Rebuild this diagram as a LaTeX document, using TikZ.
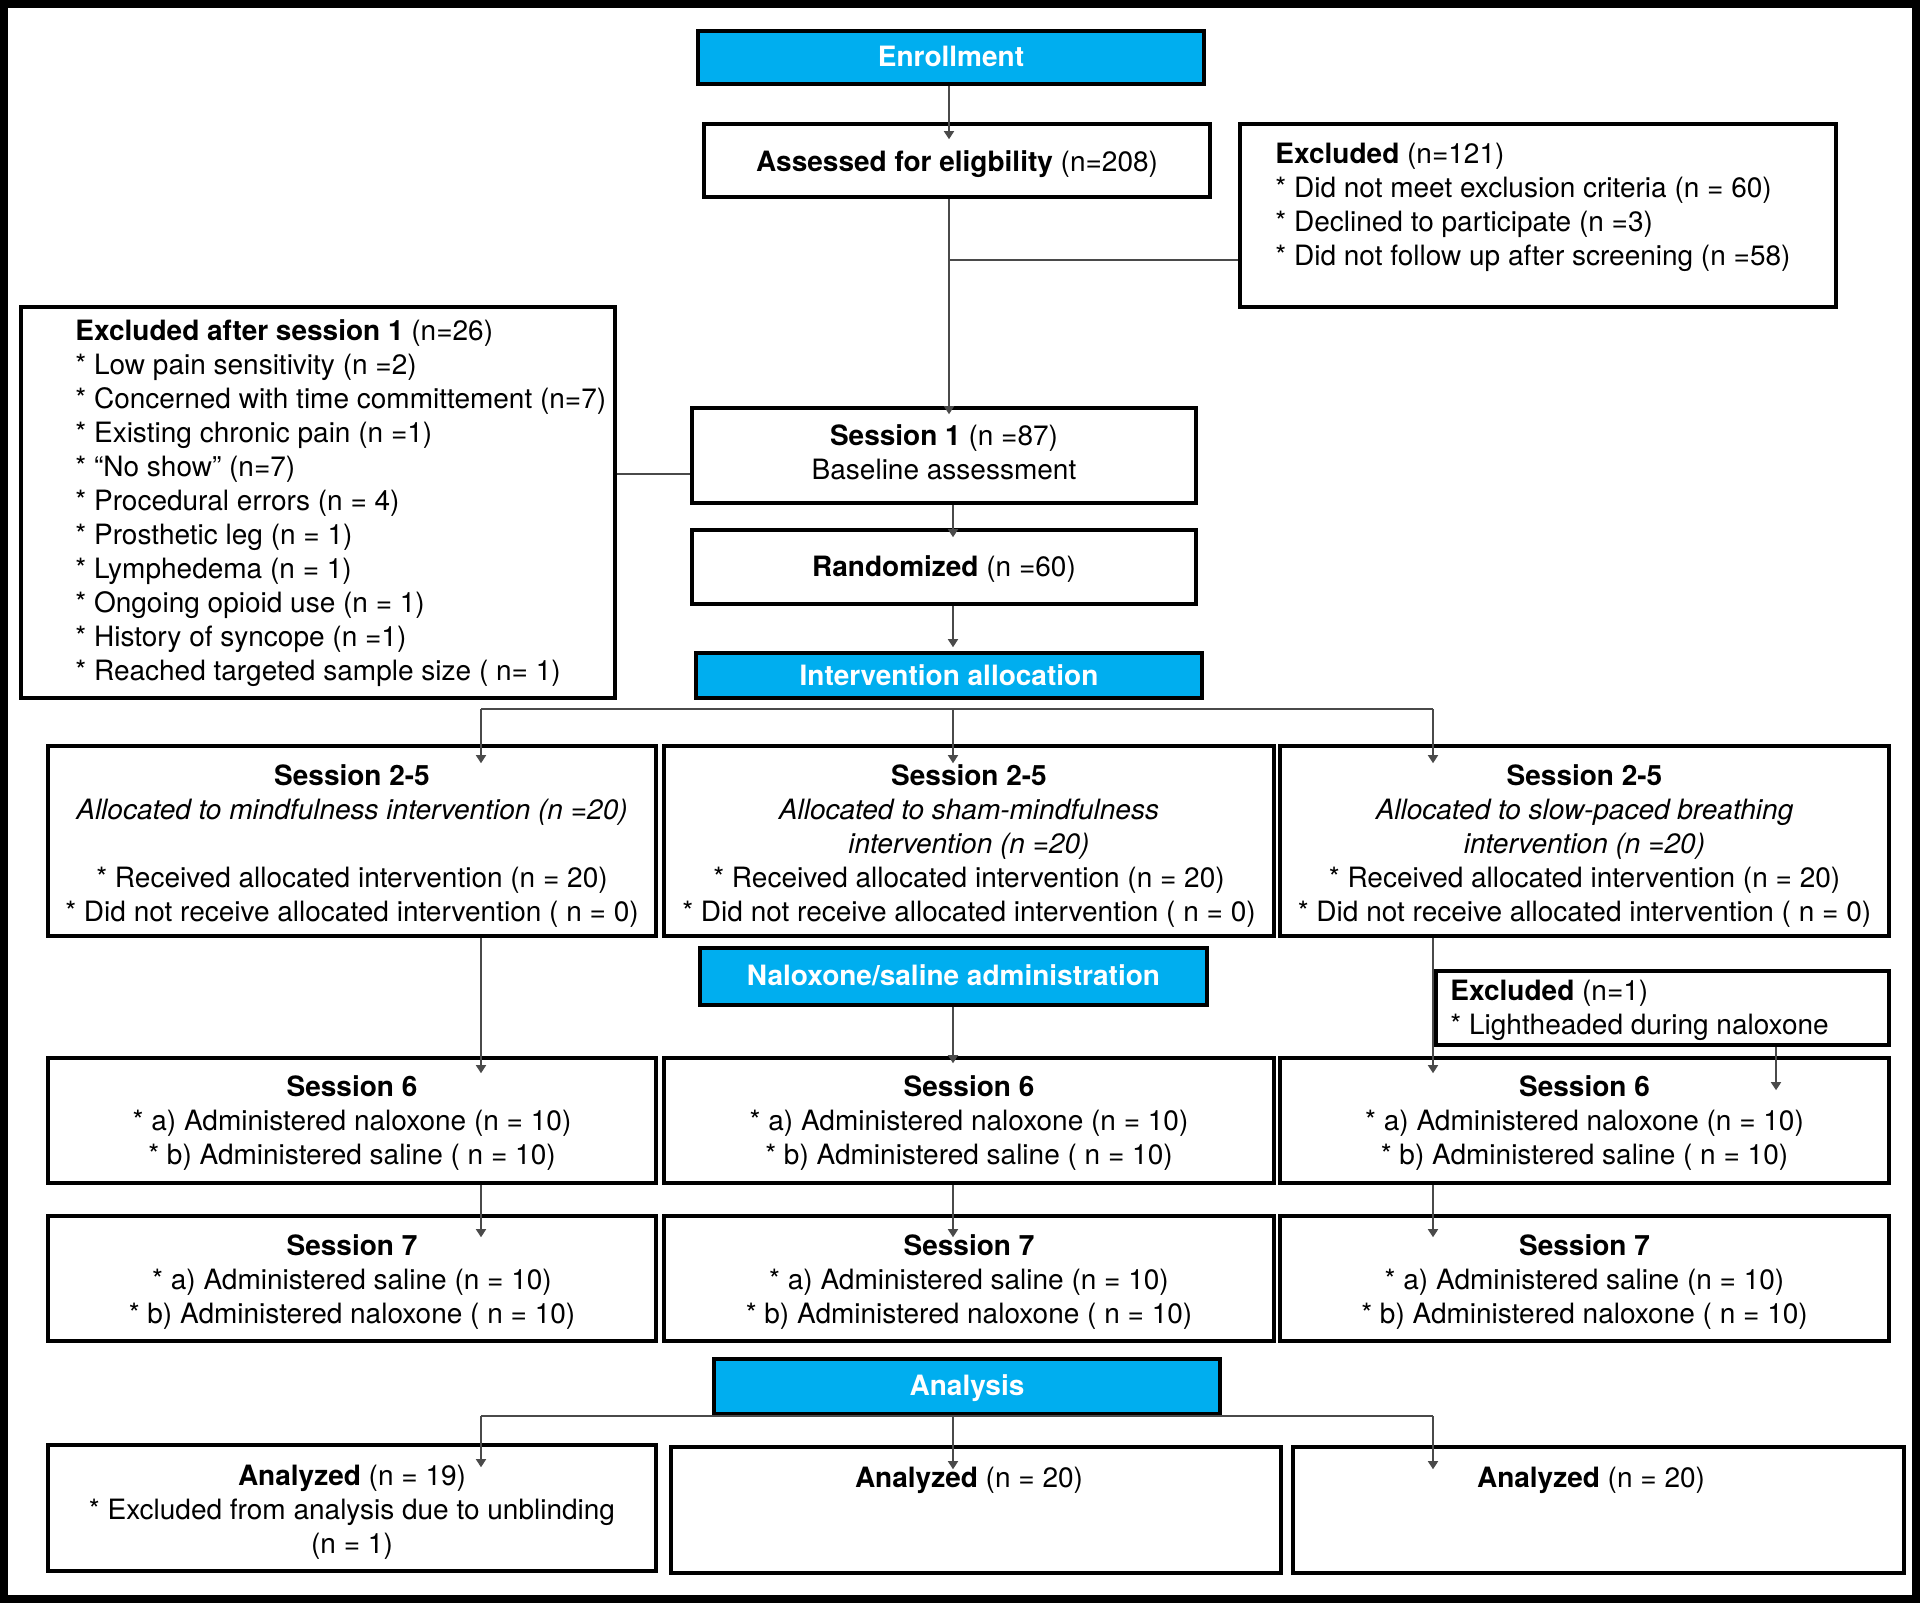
\documentclass[tikz,border=0pt]{standalone}
\usepackage{fontspec}
\setmainfont{TeX Gyre Heros}
\usetikzlibrary{arrows.meta,calc}
\definecolor{hdrblue}{HTML}{00AEEF}
\definecolor{conncol}{HTML}{4A4A4A}
\newcommand\myfs{\fontsize{14}{17}\selectfont}
% frame only
\newcommand\FrameAt[6]{\node[#1,minimum width={(#5-#3)*0.5pt},minimum height={(#6-#4)*0.5pt}] (#2) at ({(#3+#5)/2},{(#4+#6)/2}) {};}
% frame + centred text, text moved down by #8 px
\newcommand\BoxAt[8]{\FrameAt{#1}{#2}{#3}{#4}{#5}{#6}\node[#1,draw=none,fill=none] (#2t) at ([yshift={-(#8)*0.5pt}]#2.center) {#7};}
\begin{document}
\begin{tikzpicture}[x=0.5pt,y=-0.5pt,
  box/.style={draw=black,line width=1.8pt,fill=white,inner sep=0pt,align=center,font=\myfs},
  hdr/.style={box,fill=hdrblue,text=white,font=\myfs\bfseries},
  txt/.style={inner sep=0pt,align=left,font=\myfs},
  ctxt/.style={inner sep=0pt,align=center,font=\myfs},
  conn/.style={draw=conncol,line width=0.8pt},
  arr/.style={conn,-{Triangle[width=5pt,length=4pt]}}]
\useasboundingbox (0,0) rectangle (1920,1603);
\fill[white] (0,0) rectangle (1920,1603);
\draw[line width=4pt] (4,4) rectangle (1916,1599);

% column coordinates
\coordinate (xa) at (949,0);
\coordinate (xm) at (953,0);
\coordinate (xl) at (481,0);
\coordinate (xr) at (1433,0);
\coordinate (xe) at (1776,0);

% boxes
\BoxAt{hdr}{enroll}{698}{31}{1204}{84}{Enrollment}{-1}
\BoxAt{box}{assess}{704}{124}{1210}{197}{\textbf{Assessed for eligbility} (n=208)}{4}
\FrameAt{box}{excl}{1240}{124}{1836}{307}
\node[txt,anchor=west] (exclt) at (1275,207) {\textbf{Excluded} (n=121)\\{}* Did not meet exclusion criteria (n = 60)\\{}* Declined to participate (n =3)\\{}* Did not follow up after screening (n =58)};
\FrameAt{box}{exs1}{21}{307}{615}{698}
\node[txt,anchor=west] (exs1t) at (75,503) {\textbf{Excluded after session 1} (n=26)\\{}* Low pain sensitivity (n =2)\\{}* Concerned with time committement (n=7)\\{}* Existing chronic pain (n =1)\\{}* “No show” (n=7)\\{}* Procedural errors (n = 4)\\{}* Prosthetic leg (n = 1)\\{}* Lymphedema (n = 1)\\{}* Ongoing opioid use (n = 1)\\{}* History of syncope (n =1)\\{}* Reached targeted sample size ( n= 1)};
\BoxAt{box}{s1}{692}{408}{1196}{503}{\textbf{Session 1} (n =87)\\Baseline assessment}{-3}
\BoxAt{box}{rand}{692}{530}{1196}{604}{\textbf{Randomized} (n =60)}{2.5}
\BoxAt{hdr}{alloc}{696}{653}{1202}{698}{Intervention allocation}{0}

\BoxAt{box}{s25a}{48}{746}{656}{936}{\textbf{Session 2-5}\\\textit{Allocated to mindfulness intervention (n =20)}\\[17pt]{}* Received allocated intervention (n = 20)\\{}* Did not receive allocated intervention ( n = 0)}{5}
\BoxAt{box}{s25b}{664}{746}{1274}{936}{\textbf{Session 2-5}\\\textit{Allocated to sham-mindfulness}\\\textit{intervention (n =20)}\\{}* Received allocated intervention (n = 20)\\{}* Did not receive allocated intervention ( n = 0)}{5}
\BoxAt{box}{s25c}{1280}{746}{1889}{936}{\textbf{Session 2-5}\\\textit{Allocated to slow-paced breathing}\\\textit{intervention (n =20)}\\{}* Received allocated intervention (n = 20)\\{}* Did not receive allocated intervention ( n = 0)}{5}

\BoxAt{hdr}{nal}{700}{948}{1207}{1005}{Naloxone/saline administration}{-1}
\FrameAt{box}{ex1}{1436}{971}{1889}{1045}
\node[txt,anchor=west] (ex1t) at (1450,1010) {\textbf{Excluded} (n=1)\\{}* Lightheaded during naloxone};

\BoxAt{box}{s6a}{48}{1058}{656}{1183}{\textbf{Session 6}\\{}* a) Administered naloxone (n = 10)\\{}* b) Administered saline ( n = 10)}{3}
\BoxAt{box}{s6b}{664}{1058}{1274}{1183}{\textbf{Session 6}\\{}* a) Administered naloxone (n = 10)\\{}* b) Administered saline ( n = 10)}{3}
\BoxAt{box}{s6c}{1280}{1058}{1889}{1183}{\textbf{Session 6}\\{}* a) Administered naloxone (n = 10)\\{}* b) Administered saline ( n = 10)}{3}

\BoxAt{box}{s7a}{48}{1216}{656}{1341}{\textbf{Session 7}\\{}* a) Administered saline (n = 10)\\{}* b) Administered naloxone ( n = 10)}{3.5}
\BoxAt{box}{s7b}{664}{1216}{1274}{1341}{\textbf{Session 7}\\{}* a) Administered saline (n = 10)\\{}* b) Administered naloxone ( n = 10)}{3.5}
\BoxAt{box}{s7c}{1280}{1216}{1889}{1341}{\textbf{Session 7}\\{}* a) Administered saline (n = 10)\\{}* b) Administered naloxone ( n = 10)}{3.5}

\BoxAt{hdr}{ana}{714}{1359}{1220}{1414}{Analysis}{2}
\BoxAt{box}{an1}{48}{1445}{656}{1571}{\textbf{Analyzed} (n = 19)\\{}* Excluded from analysis due to unblinding\\(n = 1)}{4}
\FrameAt{box}{an2}{671}{1447}{1281}{1573}
\node[ctxt] (an2t) at (969,1480) {\textbf{Analyzed} (n = 20)};
\FrameAt{box}{an3}{1293}{1447}{1904}{1573}
\node[ctxt] (an3t) at (1591,1480) {\textbf{Analyzed} (n = 20)};

% connectors
\draw[arr,shorten >=-8.5pt] (xa |- enroll.south) -- (xa |- assess.north);
\coordinate (br1) at (949,260);
\draw[arr,shorten >=-4pt] (xa |- assess.south) -- (xa |- s1.north);
\draw[conn] (br1) -- (br1 -| excl.west);
\coordinate (br2) at (654,474);
\draw[conn] (br2 -| exs1.east) -- (br2 -| s1.west);
\draw[arr,shorten >=-4.5pt] (xm |- s1.south) -- (xm |- rand.north);
\draw[arr,shorten >=2pt] (xm |- rand.south) -- (xm |- alloc.north);

\coordinate (hy) at (0,709);
\draw[conn] (xl |- hy) -- (xr |- hy);
\draw[arr,shorten >=-9.5pt] (xl |- hy) -- (xl |- s25a.north);
\draw[arr,shorten >=-9.5pt] (xm |- hy) -- (xm |- s25b.north);
\draw[arr,shorten >=-9.5pt] (xr |- hy) -- (xr |- s25c.north);

\draw[arr,shorten >=-8.5pt] (xl |- s25a.south) -- (xl |- s6a.north);
\draw[arr,shorten >=-3.5pt] (xm |- nal.south) -- (xm |- s6b.north);
\draw[arr,shorten >=-8.5pt] (xr |- s25c.south) -- (xr |- s6c.north);
\draw[arr,shorten >=-17pt] (xe |- ex1.south) -- (xe |- s6c.north);

\draw[arr,shorten >=-11.5pt] (xl |- s6a.south) -- (xl |- s7a.north);
\draw[arr,shorten >=-11.5pt] (xm |- s6b.south) -- (xm |- s7b.north);
\draw[arr,shorten >=-11.5pt] (xr |- s6c.south) -- (xr |- s7c.north);

\coordinate (hy2) at (0,1416);
\draw[conn] (xl |- hy2) -- (xr |- hy2);
\draw[arr,shorten >=-12pt] (xl |- hy2) -- (xl |- an1.north);
\draw[arr,shorten >=-12pt] (xm |- hy2) -- (xm |- an2.north);
\draw[arr,shorten >=-12pt] (xr |- hy2) -- (xr |- an3.north);
\end{tikzpicture}
\end{document}
